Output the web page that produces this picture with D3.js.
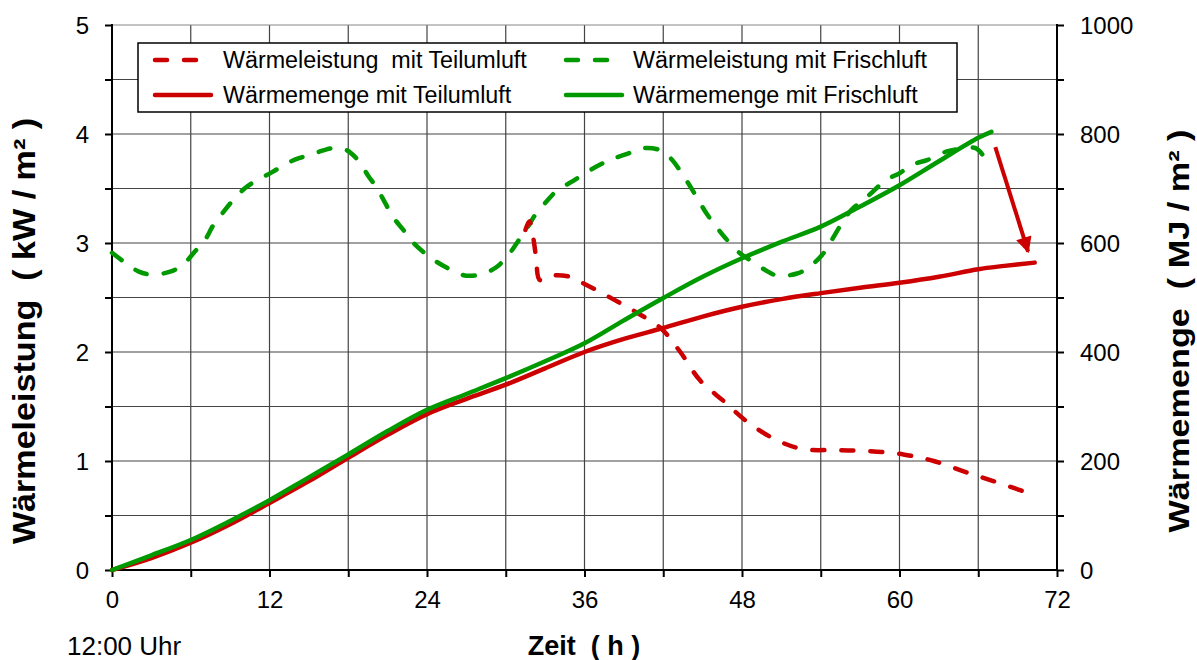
<!DOCTYPE html>
<html>
<head>
<meta charset="utf-8">
<script src="https://cdn.jsdelivr.net/npm/d3@7"></script>
<style>
  body { margin: 0; background: #fff; }
  svg text { font-family: "Liberation Sans", Arial, sans-serif; fill: #000; }
</style>
</head>
<body>
<div id="chart"></div>
<script>
// Wärmeleistung (kW/m²) und Wärmemenge (MJ/m²) über der Zeit (h)
var xTicks = [0, 12, 24, 36, 48, 60, 72]
var yLeftTicks = [0, 1, 2, 3, 4, 5]
var yRightTicks = [0, 200, 400, 600, 800, 1000]

var leistungFrischH = [0, 1, 2, 3, 4.5, 5.4, 6.3, 7.1, 7.7, 8.4, 9.2, 10.1, 11.1, 12.2, 13.3, 14.3, 15.6, 16.8, 17.9, 18.8, 19.5, 20.2, 20.8, 21.4, 22.2, 22.9, 23.8, 24.7, 25.9, 27, 28.3, 29.3, 30.2, 30.9, 31.7, 32.2, 33.1, 33.9, 35, 35.9, 37.2, 38.1, 39.3, 40.5, 41.8, 42.7, 43.4, 44, 44.7, 45.3, 46.1, 46.7, 47.8, 48.4, 49.8, 50.7, 52.2, 53, 54.1, 54.7, 55.6, 56.3, 57.5, 59, 60, 61, 62.1, 63.6, 64.4, 65.8, 66.5]
var leistungFrisch = [2.91, 2.82, 2.74, 2.71, 2.74, 2.80, 2.92, 3.03, 3.16, 3.27, 3.39, 3.50, 3.58, 3.65, 3.73, 3.78, 3.83, 3.87, 3.85, 3.75, 3.62, 3.50, 3.37, 3.24, 3.12, 3.01, 2.91, 2.83, 2.75, 2.70, 2.72, 2.78, 2.89, 3.01, 3.15, 3.25, 3.38, 3.48, 3.56, 3.63, 3.72, 3.77, 3.82, 3.87, 3.85, 3.76, 3.64, 3.53, 3.39, 3.27, 3.14, 3.05, 2.91, 2.86, 2.75, 2.70, 2.72, 2.77, 2.89, 3.00, 3.18, 3.30, 3.42, 3.58, 3.64, 3.72, 3.76, 3.84, 3.86, 3.87, 3.78]

var leistungTeilH = [31.5, 31.8, 32.05, 32.3, 32.6, 33.4, 34.9, 35.9, 37.2, 38.1, 39.3, 40, 41.8, 43.3, 44.8, 46.6, 48.4, 50.5, 52.6, 55.2, 57.8, 60.3, 62.6, 65, 67.3, 70.2]
var leistungTeil = [3.12, 3.2, 3.08, 2.88, 2.66, 2.70, 2.69, 2.63, 2.55, 2.49, 2.41, 2.36, 2.22, 2.00, 1.74, 1.55, 1.36, 1.20, 1.11, 1.10, 1.09, 1.06, 1.00, 0.90, 0.81, 0.69]

var mengeFrischH = [0, 3, 6, 9, 12, 15, 18, 21, 24, 27, 30, 33, 36, 39, 42, 45, 48, 51, 54, 57, 60, 63, 66, 67]
var mengeFrisch = [0, 27, 55, 90, 128, 170, 212, 255, 294, 323, 352, 383, 416, 458, 499, 538, 572, 602, 630, 667, 706, 750, 793, 804]

var mengeTeilH = [0, 3, 6, 9, 12, 15, 18, 21, 24, 27, 30, 33, 36, 39, 42, 45, 48, 51, 54, 57, 60, 63, 66, 68, 70.3]
var mengeTeil = [0, 22, 50, 84, 123, 163, 206, 248, 286, 314, 340, 370, 400, 424, 444, 465, 483, 497, 508, 518, 527, 538, 552, 558, 564]

// Pfeil: Wärmemenge Frischluft -> Teilumluft am Ende
var arrowH = [67.3, 69.8]
var arrowKW = [3.88, 2.92]

var red = "#cc0000", green = "#009a00"

var W = 1197, H = 660
var m = { left: 112, right: 1057, top: 25, bottom: 570 }

var svg = d3.select("#chart").append("svg")
  .attr("width", W).attr("height", H)

var x = d3.scaleLinear().domain([0, 72]).range([m.left, m.right])
var y = d3.scaleLinear().domain([0, 5]).range([m.bottom, m.top])
var y2 = d3.scaleLinear().domain([0, 1000]).range([m.bottom, m.top])

// grid
var grid = svg.append("g")
grid.selectAll("line.v").data(d3.range(6, 72, 6)).enter().append("line")
  .attr("x1", function(d) { return x(d) }).attr("x2", function(d) { return x(d) })
  .attr("y1", m.top).attr("y2", m.bottom)
  .style("stroke", "#444").style("stroke-width", 1.2)
grid.selectAll("line.h").data(d3.range(0.5, 5.01, 0.5)).enter().append("line")
  .attr("x1", m.left).attr("x2", m.right)
  .attr("y1", function(d) { return y(d) }).attr("y2", function(d) { return y(d) })
  .style("stroke", function(d) { return d == 5 ? "#888" : "#444" }).style("stroke-width", 1.2)

// axes
var axL = svg.append("g").attr("transform", "translate(" + m.left + ",0)")
  .call(d3.axisLeft(y).tickValues(d3.range(0, 5.01, 0.5)).tickSize(7).tickPadding(16)
    .tickFormat(function(d) { return d % 1 == 0 ? d : "" }))
var axB = svg.append("g").attr("transform", "translate(0," + m.bottom + ")")
  .call(d3.axisBottom(x).tickValues(d3.range(0, 72.01, 6)).tickSize(7).tickPadding(14)
    .tickFormat(function(d) { return xTicks.indexOf(d) >= 0 ? d : "" }))
var axR = svg.append("g").attr("transform", "translate(" + m.right + ",0)")
  .call(d3.axisRight(y2).tickValues(d3.range(0, 1000.1, 100)).tickSize(7).tickPadding(16)
    .tickFormat(function(d) { return yRightTicks.indexOf(d) >= 0 ? d : "" }))
;[axL, axB, axR].forEach(function(a) {
  a.select(".domain").remove()
  a.selectAll(".tick line").style("stroke", "#000").style("stroke-width", 2)
  a.selectAll(".tick text").style("font-size", "24px").style("font-family", "Liberation Sans, Arial, sans-serif")
})
axL.selectAll(".tick text").attr("dy", "0.36em")
axR.selectAll(".tick text").attr("dy", "0.36em")

svg.append("line").attr("x1", m.left).attr("x2", m.left).attr("y1", m.top - 1).attr("y2", m.bottom + 1)
  .style("stroke", "#000").style("stroke-width", 2)
svg.append("line").attr("x1", m.right).attr("x2", m.right).attr("y1", m.top - 1).attr("y2", m.bottom + 1)
  .style("stroke", "#000").style("stroke-width", 2)
svg.append("line").attr("x1", m.left).attr("x2", m.right).attr("y1", m.bottom).attr("y2", m.bottom)
  .style("stroke", "#000").style("stroke-width", 2)

// lines
function pts(hs, vs) { return hs.map(function(h, i) { return [h, vs[i]] }) }
var lineL = d3.line().x(function(d) { return x(d[0]) }).y(function(d) { return y(d[1]) }).curve(d3.curveCatmullRom)
var lineR = d3.line().x(function(d) { return x(d[0]) }).y(function(d) { return y2(d[1]) }).curve(d3.curveCatmullRom)

var series = [
  { d: lineL(pts(leistungFrischH, leistungFrisch)), c: green, dash: true },
  { d: lineL(pts(leistungTeilH, leistungTeil)), c: red, dash: true },
  { d: lineR(pts(mengeTeilH, mengeTeil)), c: red, dash: false },
  { d: lineR(pts(mengeFrischH, mengeFrisch)), c: green, dash: false }
]
svg.append("g").selectAll("path").data(series).enter().append("path")
  .attr("d", function(d) { return d.d })
  .style("fill", "none")
  .style("stroke", function(d) { return d.c })
  .style("stroke-width", 4.5)
  .style("stroke-linecap", "round")
  .style("stroke-dasharray", function(d) { return d.dash ? "12,17" : null })

// arrow
svg.append("defs").append("marker")
  .attr("id", "arr").attr("viewBox", "0 0 10 10").attr("refX", 9).attr("refY", 5)
  .attr("markerWidth", 4.5).attr("markerHeight", 4).attr("markerUnits", "strokeWidth")
  .attr("orient", "auto")
  .append("path").attr("d", "M0,0 L10,5 L0,10 z").style("fill", red)
svg.append("line")
  .attr("x1", x(arrowH[0])).attr("y1", y(arrowKW[0]))
  .attr("x2", x(arrowH[1])).attr("y2", y(arrowKW[1]))
  .style("stroke", red).style("stroke-width", 4)
  .attr("marker-end", "url(#arr)")

// legend
var lg = svg.append("g")
lg.append("rect").attr("x", 138).attr("y", 43).attr("width", 819).attr("height", 69)
  .style("fill", "#fff").style("stroke", "#000").style("stroke-width", 1.5)
var legendItems = [
  { t: "Wärmeleistung  mit Teilumluft", c: red, dash: true, x: 155, tx: 223, y: 60 },
  { t: "Wärmemenge mit Teilumluft", c: red, dash: false, x: 155, tx: 223, y: 95 },
  { t: "Wärmeleistung mit Frischluft", c: green, dash: true, x: 566, tx: 633, y: 60 },
  { t: "Wärmemenge mit Frischluft", c: green, dash: false, x: 566, tx: 633, y: 95 }
]
var li = lg.selectAll("g.li").data(legendItems).enter().append("g")
li.append("line")
  .attr("x1", function(d) { return d.x }).attr("x2", function(d) { return d.x + 56 })
  .attr("y1", function(d) { return d.y }).attr("y2", function(d) { return d.y })
  .style("stroke", function(d) { return d.c }).style("stroke-width", 4.5)
  .style("stroke-linecap", "round")
  .style("stroke-dasharray", function(d) { return d.dash ? "12,17" : null })
li.append("text")
  .attr("x", function(d) { return d.tx }).attr("y", function(d) { return d.y + 8 })
  .style("font-size", "23.3px").style("white-space", "pre")
  .text(function(d) { return d.t })

// titles
svg.append("text").attr("transform", "translate(35,331) rotate(-90) scale(1.1,1)")
  .attr("text-anchor", "middle").style("font-size", "31px").style("font-weight", "bold")
  .style("white-space", "pre")
  .text("Wärmeleistung  ( kW / m² )")
svg.append("text").attr("transform", "translate(1189,331) rotate(-90) scale(1.18,1)")
  .attr("text-anchor", "middle").style("font-size", "29px").style("font-weight", "bold")
  .style("white-space", "pre")
  .text("Wärmemenge  ( MJ / m² )")
svg.append("text").attr("x", 584).attr("y", 655).attr("text-anchor", "middle")
  .style("font-size", "27px").style("font-weight", "bold").style("white-space", "pre")
  .text("Zeit  ( h )")
svg.append("text").attr("x", 67).attr("y", 655)
  .style("font-size", "26px")
  .text("12:00 Uhr")
</script>
</body>
</html>
